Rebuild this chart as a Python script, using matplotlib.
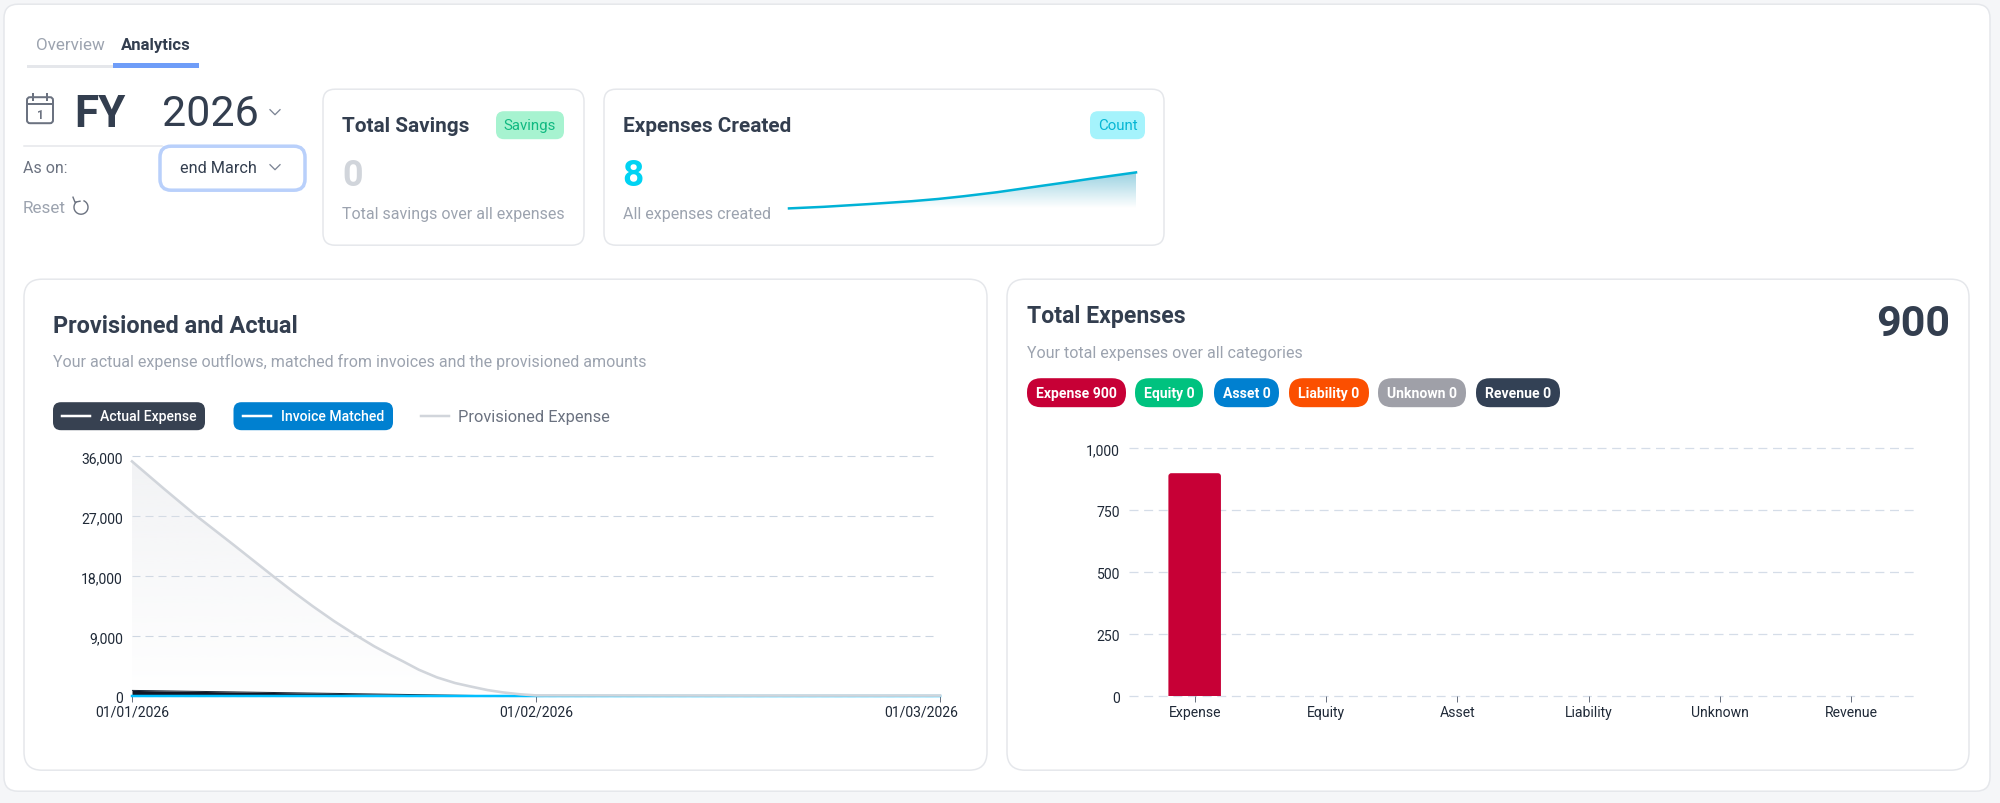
import numpy as np
import matplotlib
matplotlib.use("Agg")
import matplotlib.pyplot as plt
from matplotlib.patches import FancyBboxPatch, Arc, Rectangle
from matplotlib.colors import LinearSegmentedColormap, to_rgb
from matplotlib.transforms import ScaledTranslation, IdentityTransform

plt.rcParams['font.family'] = ['Roboto', 'DejaVu Sans']

# Provisioned and Actual (x in months since 01/01/2026)
month_labels = ['01/01/2026', '01/02/2026', '01/03/2026']
line_months = [0, 1, 2]
actual_expense = [900, 0, 0]
invoice_matched = [0, 0, 0]
provisioned_months = [0, 0.08, 0.161, 0.25, 0.3, 0.35, 0.4, 0.448, 0.5, 0.559, 0.6, 0.64, 0.671, 0.71,
                      0.755, 0.8, 0.837, 0.88, 0.918, 0.96, 1.0, 1.5, 2]
provisioned_expense = [35250, 31100, 27000, 22800, 20400, 18000, 15650, 13500, 11300, 9000, 7500, 6200, 5250, 4000,
                       2850, 2000, 1500, 950, 600, 320, 150, 120, 120]
line_ticks = [0, 9000, 18000, 27000, 36000]

# Total Expenses
categories = ['Expense', 'Equity', 'Asset', 'Liability', 'Unknown', 'Revenue']
category_values = [900, 0, 0, 0, 0, 0]
category_colors = ['#C70036', '#00C27F', '#0080D0', '#FB4F00', '#9FA0A8', '#334155']
bar_ticks = [0, 250, 500, 750, 1000]

# Expenses Created sparkline
spark_pos = [0, 0.1, 0.228, 0.354, 0.43, 0.503, 0.6, 0.723, 0.8, 0.87, 1]
spark_values = [0, 0.35, 0.95, 1.6, 2.1, 2.7, 3.6, 4.96, 5.8, 6.6, 8]

DARK = '#333E4F'
GREY = '#9CA3AF'
TICK = '#1F2937'
W, H = 2000, 804
OFF = 1.2
AX_OFF = 0.4

fig = plt.figure(figsize=(W / 100, H / 100), dpi=100, facecolor='#F5F6F8')
page = fig.add_axes([0, 0, 1, 1])
page.set_xlim(0, W)
page.set_ylim(H - OFF, -OFF)
page.axis('off')


def pt(px):
    return px * 0.72


def box(x0, y0, x1, y1, r, fc='white', ec='none', lw=1.5, z=1):
    page.add_patch(FancyBboxPatch((x0, y0), x1 - x0, y1 - y0, boxstyle=f'round,pad=0,rounding_size={r}',
                                  fc=fc, ec=ec, lw=pt(lw), zorder=z))


def txt(x, y, s, px, color=DARK, weight='normal', ha='left'):
    page.text(x, y, s, fontsize=pt(px), color=color, fontweight=weight, ha=ha, va='center', zorder=5)


def chevron(x, y, color='#7B8494'):
    page.plot([x - 5, x, x + 5], [y - 2.5, y + 2.5, y - 2.5], color=color, lw=pt(1.3), zorder=5)


def axes_px(x0, y0, x1, y1):
    return fig.add_axes([x0 / W, 1 - (y1 + AX_OFF) / H, (x1 - x0) / W, (y1 - y0) / H], facecolor='none')


def gradient_fill(ax, x, y, color, top_alpha):
    poly = ax.fill_between(x, y, 0, color='none', lw=0)
    cmap = LinearSegmentedColormap.from_list('g', [to_rgb(color) + (0,), to_rgb(color) + (top_alpha,)])
    ramp = np.linspace(1, 0, 128).reshape(-1, 1)
    xl, yl = ax.get_xlim(), ax.get_ylim()
    im = ax.imshow(ramp, cmap=cmap, vmin=0, vmax=1, aspect='auto', zorder=1,
                   extent=[min(x), max(x), 0, max(y)])
    ax.set_xlim(xl)
    ax.set_ylim(yl)
    im.set_clip_path(poly.get_paths()[0], transform=ax.transData)


# page and cards
box(4, 4, 1990, 791, 14, ec='#E5E7EB', z=0)
box(323, 89, 584, 245, 12, ec='#E5E7EB')
box(604, 89, 1164, 245, 12, ec='#E5E7EB')
box(24, 279, 987, 770, 18, ec='#E5E7EB')
box(1007, 279, 1969, 770, 18, ec='#E5E7EB')

# tabs
txt(36, 44, 'Overview', 17, '#9CA3AF')
txt(121, 44, 'Analytics', 16.6, DARK, 'bold')
page.add_patch(Rectangle((27, 65), 86, 3, fc='#E5E7EB', ec='none'))
page.add_patch(Rectangle((113, 63), 86, 5, fc='#6F9DF8', ec='none'))

# year selector
box(27, 97, 53, 123, 3, fc='none', ec='#6B7280', lw=2)
page.plot([27, 53], [104, 104], color='#6B7280', lw=pt(2))
page.plot([33, 33], [94, 100], color='#6B7280', lw=pt(2))
page.plot([47, 47], [94, 100], color='#6B7280', lw=pt(2))
txt(40, 114, '1', 12, '#6B7280', 'bold', ha='center')
txt(74, 113.5, 'FY', 44, DARK, 'bold')
txt(162, 113.5, '2026', 43, DARK)
chevron(275, 112)
page.plot([24, 162], [146, 146], color='#E5E7EB', lw=pt(1.5))
txt(23, 167, 'As on:', 16, '#6B7280')
box(160, 146, 305, 190, 11, ec='#B9D0FB', lw=3.5, z=3)
txt(180, 167, 'end March', 16.2, DARK)
chevron(275, 167)
txt(23, 207, 'Reset', 17, '#9CA3AF')
page.add_patch(Arc((81, 207), 14, 14, theta1=-70, theta2=230, color='#6B7280', lw=pt(1.4)))
page.plot([73, 75, 80], [197, 202, 201], color='#6B7280', lw=pt(1.4))

# total savings
txt(342, 125, 'Total Savings', 20.8, DARK, 600)
box(496, 111, 564, 139, 8, fc='#A7F3D0')
txt(530, 125, 'Savings', 15, '#10B981', ha='center')
txt(342, 175, '0', 36, '#D1D5DB', 'bold')
txt(342, 213, 'Total savings over all expenses', 16, GREY)

# expenses created
txt(623, 125, 'Expenses Created', 20.8, DARK, 600)
box(1090, 111, 1145, 139, 8, fc='#A5F3FC')
txt(1117.5, 125, 'Count', 15, '#06B6D4', ha='center')
txt(622, 175, '8', 37, '#00D3F3', 'bold')
txt(623, 213, 'All expenses created', 16, GREY)

spark = axes_px(789, 173, 1136, 209)
spark.set_xlim(0, 1)
spark.set_ylim(0, 8)
gradient_fill(spark, spark_pos, spark_values, '#0E93B8', 0.42)
spark.plot(spark_pos, spark_values, color='#00B2D6', lw=pt(2.5), zorder=3, clip_on=False)
spark.axis('off')

# provisioned and actual
txt(53, 325.5, 'Provisioned and Actual', 23.5, DARK, 'bold')
txt(53, 361, 'Your actual expense outflows, matched from invoices and the provisioned amounts', 16.07, GREY)
box(53, 402, 205, 430, 8, fc='#374151')
page.plot([62, 90], [416, 416], color='white', lw=pt(2.5), zorder=5)
txt(100, 416, 'Actual Expense', 14, 'white', 500)
box(233.5, 402, 393, 430, 8, fc='#0080D0')
page.plot([243, 271], [416, 416], color='white', lw=pt(2.5), zorder=5)
txt(281, 416, 'Invoice Matched', 14, 'white', 500)
page.plot([421, 449], [416, 416], color='#D1D5DB', lw=pt(2.5), zorder=5)
txt(458, 416, 'Provisioned Expense', 16.4, '#6B7280')

ax = axes_px(132, 457, 940, 697)
ax.set_xlim(0, 2)
ax.set_ylim(0, 36000)
ax.hlines(line_ticks, 0, 1.993, color='#CBD5E1', lw=0.8, linestyles=(0, (7.2, 4.5)), zorder=0, clip_on=False)
gradient_fill(ax, provisioned_months, provisioned_expense, '#E5E7EB', 0.5)
ax.fill_between(line_months, actual_expense, 0, color='#111827', lw=0, zorder=2)
ax.plot(line_months, actual_expense, color='#1F2937', lw=pt(1), zorder=2)
ax.plot(line_months, invoice_matched, color='#00BFFF', lw=pt(2.5), zorder=3, clip_on=False)
ax.plot(provisioned_months, provisioned_expense, color='#D1D5DB', lw=pt(2.6), zorder=4, clip_on=False)
ax.set_xticks(line_months, month_labels)
ax.set_yticks(line_ticks, [f'{v:,}' for v in line_ticks])
ax.tick_params(axis='x', length=pt(6), width=pt(1), color='#6B7280', pad=pt(2.5), labelsize=pt(14), labelcolor=TICK)
ax.tick_params(axis='y', length=0, pad=pt(9), labelsize=pt(14), labelcolor=TICK)
last = ax.get_xticklabels()[-1]
last.set_transform(last.get_transform() + ScaledTranslation(-0.19, 0, fig.dpi_scale_trans))
for s in ax.spines.values():
    s.set_visible(False)

# total expenses
txt(1027, 315, 'Total Expenses', 23, DARK, 'bold')
txt(1027, 352.5, 'Your total expenses over all categories', 16, GREY)
txt(1950, 323.5, '900', 43, DARK, 'bold', ha='right')
chip_edges = [(1027, 1126), (1135, 1203), (1214, 1279), (1289, 1369), (1378, 1466), (1476, 1560)]
for (x0, x1), name, val, col in zip(chip_edges, categories, category_values, category_colors):
    box(x0, 378, x1, 407, 14, fc=col)
    txt((x0 + x1) / 2, 392.5, f'{name} {val}', 14, 'white', 600, ha='center')

bx = axes_px(1129, 449, 1917, 697)
bars = bx.bar(categories, category_values, width=0.4, color=category_colors, zorder=2)
bx.set_xlim(-0.5, 5.5)
bx.set_ylim(0, 1000)
bx.hlines(bar_ticks, -0.5, 5.5, color='#D5DDE8', lw=0.9, linestyles=(0, (7.2, 4.5)), zorder=0, clip_on=False)
bx.set_yticks(bar_ticks, [f'{v:,}' for v in bar_ticks])
bx.tick_params(axis='x', length=pt(6), width=pt(1), color='#6B7280', pad=pt(2.5), labelsize=pt(14), labelcolor=TICK)
bx.tick_params(axis='y', length=0, pad=pt(9), labelsize=pt(14), labelcolor=TICK)
for s in bx.spines.values():
    s.set_visible(False)

# round the top corners of the bars
for b in bars:
    if b.get_height() > 0:
        bb = b.get_window_extent()
        b.set_clip_path(FancyBboxPatch((bb.x0, bb.y0 - 10), bb.width, bb.height + 10,
                                       boxstyle='round,pad=0,rounding_size=3', transform=IdentityTransform()))

fig.savefig('out.png', dpi=100, facecolor=fig.get_facecolor())
